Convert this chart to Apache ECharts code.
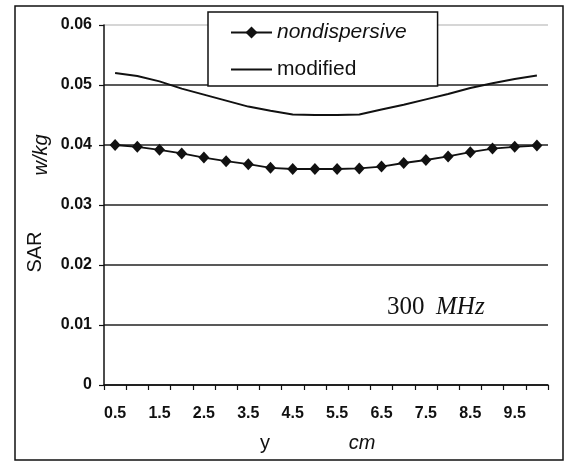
<!DOCTYPE html>
<html>
<head>
<meta charset="utf-8">
<script src="https://cdn.jsdelivr.net/npm/echarts@6/dist/echarts.min.js"></script>
<style>
html,body{margin:0;padding:0;background:#fff;}
#c{width:565px;height:462px;}
</style>
</head>
<body>
<div id="c"></div>
<script>
const categories = ['0.5','1','1.5','2','2.5','3','3.5','4','4.5','5','5.5','6','6.5','7','7.5','8','8.5','9','9.5','10'];
const nondispersive = [0.0400,0.0397,0.0392,0.0386,0.0379,0.0373,0.0368,0.0362,0.0360,0.0360,0.0360,0.0361,0.0364,0.0370,0.0375,0.0381,0.0388,0.0394,0.0397,0.0399];
const modified = [0.0520,0.0515,0.0506,0.0494,0.0484,0.0474,0.0464,0.0457,0.0451,0.0450,0.0450,0.0451,0.0459,0.0467,0.0476,0.0485,0.0495,0.0503,0.0510,0.0516];
const seriesNames = ['nondispersive','modified'];
const yTicks = {min:0, max:0.06, interval:0.01};

const sans = '"Liberation Sans", Arial, sans-serif';
const serif = '"Liberation Serif", "Times New Roman", serif';
const chart = echarts.init(document.getElementById('c'), null, {renderer:'canvas'});
chart.setOption({
  backgroundColor:'#fff',
  animation:false,
  grid:{left:104, right:17, top:25, bottom:77, containLabel:false},
  legend:{
    orient:'vertical', left:208, top:12,
    padding:[10,31,6,22], itemGap:16,
    itemWidth:41, itemHeight:15,
    backgroundColor:'#fff', borderColor:'#111', borderWidth:1.5,
    data:[{name:seriesNames[0]},{name:seriesNames[1], itemStyle:{opacity:0}}],
    formatter:function(n){ return n==='nondispersive' ? '{i|'+n+'}' : '{n|'+n+'}'; },
    textStyle:{color:'#111', rich:{
      i:{fontFamily:sans, fontStyle:'italic', fontSize:21, color:'#111'},
      n:{fontFamily:sans, fontSize:21, color:'#111'}
    }}
  },
  xAxis:{
    type:'category', data:categories, boundaryGap:true,
    axisLine:{lineStyle:{color:'#111', width:1.5}},
    axisTick:{show:true, interval:0, length:5, lineStyle:{color:'#111', width:1.2}},
    axisLabel:{interval:1, margin:21, fontFamily:sans, fontSize:16, fontWeight:'bold', color:'#111'},
    splitLine:{show:false}
  },
  yAxis:{
    type:'value', min:yTicks.min, max:yTicks.max, interval:yTicks.interval,
    axisLine:{show:true, lineStyle:{color:'#111', width:1.5}},
    axisTick:{show:true, length:5, lineStyle:{color:'#111', width:1.2}},
    axisLabel:{margin:12, fontFamily:sans, fontSize:16, fontWeight:'bold', color:'#111'},
    splitLine:{show:true, lineStyle:{color:['#222','#222','#222','#222','#222','#222','#c8c8c8'], width:1.5}}
  },
  series:[
    {name:seriesNames[0], type:'line', data:nondispersive, symbol:'diamond', symbolSize:[11,12],
     itemStyle:{color:'#111'}, lineStyle:{color:'#111', width:1.8}},
    {name:seriesNames[1], type:'line', data:modified, symbol:'none', showSymbol:false,
     itemStyle:{color:'#111'}, lineStyle:{color:'#111', width:2}}
  ],
  graphic:[
    {type:'rect', shape:{x:15, y:6, width:548, height:454}, style:{fill:'none', stroke:'#111', lineWidth:1.5}, z:-1},
    {type:'text', x:35, y:252, rotation:Math.PI/2, style:{text:'SAR', font:'20px '+sans, fill:'#111', textAlign:'center', textVerticalAlign:'middle'}},
    {type:'text', x:41, y:155, rotation:Math.PI/2, style:{text:'w/kg', font:'italic 20px '+sans, fill:'#111', textAlign:'center', textVerticalAlign:'middle'}},
    {type:'text', x:265, y:443, style:{text:'y', font:'20px '+sans, fill:'#111', textAlign:'center', textVerticalAlign:'middle'}},
    {type:'text', x:362, y:443, style:{text:'cm', font:'italic 20px '+sans, fill:'#111', textAlign:'center', textVerticalAlign:'middle'}},
    {type:'text', x:387, y:307, style:{text:'300', font:'25px '+serif, fill:'#111', textAlign:'left', textVerticalAlign:'middle'}},
    {type:'text', x:436, y:307, style:{text:'MHz', font:'italic 25px '+serif, fill:'#111', textAlign:'left', textVerticalAlign:'middle'}}
  ]
});
</script>
</body>
</html>
